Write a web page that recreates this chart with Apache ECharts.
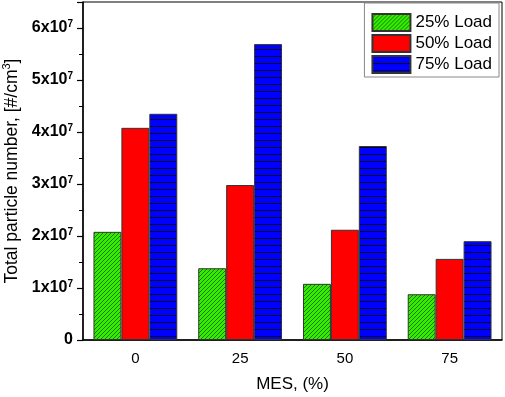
<!DOCTYPE html>
<html>
<head>
<meta charset="utf-8">
<script src="https://cdn.jsdelivr.net/npm/echarts@6/dist/echarts.min.js"></script>
<style>
  html, body { margin: 0; padding: 0; background: #fff; }
  #chart { width: 505px; height: 397px; }
</style>
</head>
<body>
<div id="chart"></div>
<script>
// data
var categories = ['0', '25', '50', '75']
var load25 = [2.08e7, 1.38e7, 1.08e7, 0.88e7]
var load50 = [4.08e7, 2.98e7, 2.12e7, 1.56e7]
var load75 = [4.35e7, 5.69e7, 3.73e7, 1.90e7]
var seriesNames = ['25% Load', '50% Load', '75% Load']

var FONT = 'Arial, "Liberation Sans", sans-serif'

// hatch tiles
function greenHatch() {
  var c = document.createElement('canvas')
  c.width = 4; c.height = 4
  var g = c.getContext('2d')
  g.fillStyle = '#33ee00'
  g.fillRect(0, 0, 4, 4)
  g.strokeStyle = '#1a7a00'
  g.lineWidth = 1
  g.beginPath()
  g.moveTo(-1, 5); g.lineTo(5, -1)
  g.moveTo(-1, 1); g.lineTo(1, -1)
  g.moveTo(3, 5); g.lineTo(5, 3)
  g.stroke()
  return c
}
function blueLines() {
  var c = document.createElement('canvas')
  c.width = 8; c.height = 7
  var g = c.getContext('2d')
  g.fillStyle = '#0000ff'
  g.fillRect(0, 0, 8, 7)
  g.fillStyle = '#000022'
  g.fillRect(0, 0, 8, 1)
  return c
}

var chart = echarts.init(document.getElementById('chart'), null, { renderer: 'canvas' })

function barSeries(name, data, color) {
  return {
    name: name,
    type: 'bar',
    data: data,
    barGap: '0%',
    barCategoryGap: '20%',
    itemStyle: { color: color, borderColor: '#333', borderWidth: 1 }
  }
}

chart.setOption({
  animation: false,
  backgroundColor: '#fff',
  grid: {
    left: 83, right: 3, top: 2, bottom: 57,
    containLabel: false,
    outerBoundsMode: 'none',
    show: true, borderColor: '#000', borderWidth: 1
  },
  legend: {
    data: seriesNames,
    orient: 'vertical',
    right: 6, top: 3,
    icon: 'rect',
    itemWidth: 38, itemHeight: 17,
    itemGap: 2,
    padding: [10, 7, 3, 7],
    borderColor: '#888', borderWidth: 1,
    backgroundColor: '#fff',
    textStyle: { fontFamily: FONT, fontSize: 17, color: '#000' }
  },
  xAxis: [
    {
      type: 'category',
      data: categories,
      axisLine: { lineStyle: { color: '#000', width: 1.5 } },
      axisTick: { alignWithLabel: true, length: 6, lineStyle: { color: '#000', width: 1.2 } },
      axisLabel: { fontFamily: FONT, fontSize: 15, color: '#000', margin: 11 },
      name: 'MES, (%)',
      nameLocation: 'middle',
      nameGap: 36,
      nameTextStyle: { fontFamily: FONT, fontSize: 17, color: '#000' }
    },
    {
      type: 'category',
      data: categories,
      position: 'bottom',
      axisLine: { show: false },
      axisTick: { length: 4, lineStyle: { color: '#000', width: 1 } },
      axisLabel: { show: false }
    }
  ],
  yAxis: {
    type: 'value',
    min: 0,
    max: 6.5e7,
    interval: 1e7,
    splitLine: { show: false },
    axisLine: { show: true, lineStyle: { color: '#000', width: 1.5 } },
    axisTick: { show: true, length: 6, lineStyle: { color: '#000', width: 1.2 } },
    minorTick: { show: true, splitNumber: 2, length: 4, lineStyle: { color: '#000' } },
    axisLabel: {
      margin: 10,
      color: '#000',
      formatter: function (v) {
        if (v === 0) return '{b|0}'
        if (v > 6e7) return ''
        return '{b|' + Math.round(v / 1e7) + 'x10}{s|7}'
      },
      rich: {
        b: { fontFamily: FONT, fontSize: 16, fontWeight: 'bold', color: '#000' },
        s: { fontFamily: FONT, fontSize: 10, fontWeight: 'bold', color: '#000', verticalAlign: 'bottom', padding: [0, 0, 8, 0] }
      }
    },
    name: 'Total particle number, [#/cm{s|3}]',
    nameLocation: 'middle',
    nameGap: 57,
    nameTextStyle: {
      fontFamily: FONT, fontSize: 17.5, color: '#000',
      rich: {
        s: { fontFamily: FONT, fontSize: 11, color: '#000', padding: [0, 0, 9, 0] }
      }
    }
  },
  series: [
    barSeries(seriesNames[0], load25, { image: greenHatch(), repeat: 'repeat' }),
    barSeries(seriesNames[1], load50, '#ff0000'),
    barSeries(seriesNames[2], load75, { image: blueLines(), repeat: 'repeat' })
  ]
})
</script>
</body>
</html>
